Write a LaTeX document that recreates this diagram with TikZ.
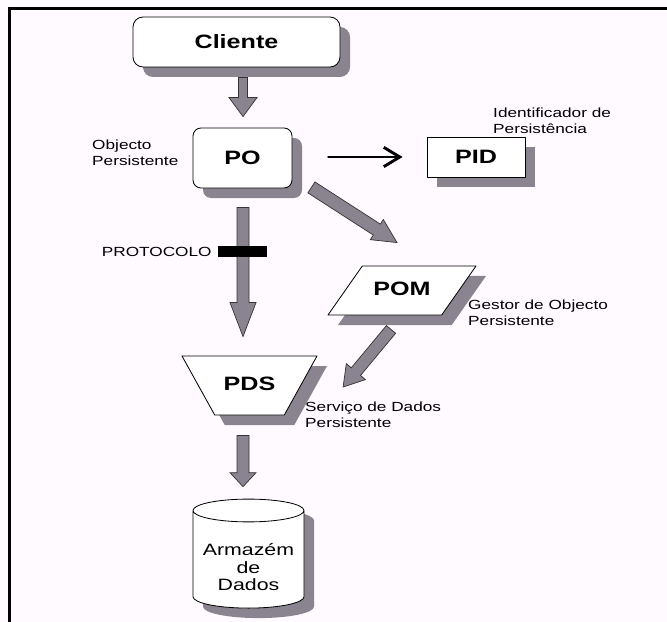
\documentclass[tikz,border=0pt]{standalone}
\usepackage{fontspec}
\setmainfont[FakeStretch=1.3]{Liberation Sans}
\usetikzlibrary{shapes.geometric,calc,shadows,arrows.meta}

\definecolor{fundo}{RGB}{255,250,255}
\definecolor{cinza}{RGB}{138,132,144}

\newcommand{\blocoseta}[5]{%
	\coordinate (h) at ($(#2)!#5*0.03cm!(#1)$);
	\draw[bloco] ($(#1)!#3*0.03cm!90:(#2)$) -- ($(h)!#3*0.03cm!90:(#2)$) -- ($(h)!#4*0.03cm!90:(#2)$) -- (#2) -- ($(h)!#4*0.03cm!-90:(#2)$) -- ($(h)!#3*0.03cm!-90:(#2)$) -- ($(#1)!#3*0.03cm!-90:(#2)$) -- cycle;}

\tikzset{caixa/.style={draw, line width=0.7pt, fill=white, inner sep=0pt, font=\fontsize{16.5}{19}\selectfont\bfseries, copy shadow={shadow xshift=0.3cm, shadow yshift=-0.3cm, fill=cinza, draw=none}},
	rotulo/.style={anchor=north west, inner sep=0pt, align=left, font=\fontsize{11.3}{13.2}\selectfont},
	bloco/.style={draw=black!80, line width=0.6pt, fill=cinza, line join=miter}}

\begin{document}
\begin{tikzpicture}[x=0.03cm, y=-0.03cm, line join=round, line cap=round, >=stealth]

			\fill[fundo] (0,0) rectangle (667,622);

			\useasboundingbox (0,0) rectangle (667,622);

			\draw[line width=0.09cm, line join=miter, line cap=butt] (9.5,622) -- (9.5,8.5) -- (667,8.5);

			\node[caixa, rounded corners=0.3cm, minimum width=6.21cm, minimum height=1.5cm] (C) at (236.5,42) {Cliente};

			\node[caixa, rounded corners=0.24cm, minimum width=2.97cm, minimum height=1.8cm] (PO) at (242.5,158) {PO};

			\node[caixa, minimum width=2.94cm, minimum height=1.2cm] (PID) at (476,157) {PID};

			\node[caixa, trapezium, trapezium left angle=55, trapezium right angle=125, text height=0.3cm, text depth=0pt, inner xsep=0pt, inner ysep=0.585cm, trapezium stretches body=true, minimum width=4.44cm] (POM) at (402,290.5) {POM};

			\node[caixa, trapezium, shape border rotate=180, trapezium left angle=61, trapezium right angle=61, text height=0.3cm, text depth=0pt, inner xsep=0pt, inner ysep=0.735cm, trapezium stretches body=true, minimum width=4.05cm] (PDS) at (249.5,385.5) {PDS};

			\node[caixa, cylinder, shape border rotate=90, aspect=0.25, minimum width=3.33cm, minimum height=3.27cm, font=\fontsize{14}{15}\selectfont] (AD) at (248.5,559.5) {\raisebox{-0.3cm}[\height][\depth]{\begin{tabular}{@{}c@{}}Armazém\\de\\Dados\end{tabular}}};

			\coordinate (a1) at ($(C.south)+(6.5,10)$);

			\coordinate (a2) at ($(PO.north)+(0.5,-11)$);

			\blocoseta{a1}{a2}{4.5}{14}{19}

			\coordinate (b1) at ($(PO.east)+(36,-1)$);

			\coordinate (b2) at ($(PID.west)+(-24,0)$);

			\draw[line width=2.5pt, -{Straight Barb[length=4.8mm,width=5.8mm]}] (b1) -- (b2);

			\coordinate (c1) at ($(PO.south east)+(19,-1)$);

			\coordinate (c2) at ($(POM.north)+(-5,-23)$);

			\blocoseta{c1}{c2}{6.5}{12}{24}

			\coordinate (d1) at ($(POM.south)+(-11,14)$);

			\coordinate (d2) at ($(PDS.east)+(42,1.5)$);

			\blocoseta{d1}{d2}{6}{12.5}{20}

			\coordinate (e1) at ($(PO.south)+(0.5,19)$);

			\coordinate (e2) at ($(PDS.north)+(-6.5,-19)$);

			\blocoseta{e1}{e2}{6}{13}{34}

			\coordinate (f1) at ($(PDS.south)+(-6.5,20)$);

			\coordinate (f2) at ($(AD.north)+(-5.5,-12)$);

			\blocoseta{f1}{f2}{6}{13}{14}

			\node[fill=black, minimum width=1.47cm, minimum height=0.33cm, inner sep=0pt] (PR) at (242.5,251.5) {};

			\node[rotulo, anchor=east] (lPR) at ($(PR.west)+(-6,0)$) {PROTOCOLO};

			\node[rotulo] (lPO) at (92,140) {Objecto\\Persistente};

			\node[rotulo] (lPID) at (493,108) {Identificador de\\Persistência};

			\node[rotulo] (lPOM) at (468,300) {Gestor de Objecto\\Persistente};

			\node[rotulo] (lPDS) at (305,402) {Serviço de Dados\\Persistente};

	\end{tikzpicture}
\end{document}
